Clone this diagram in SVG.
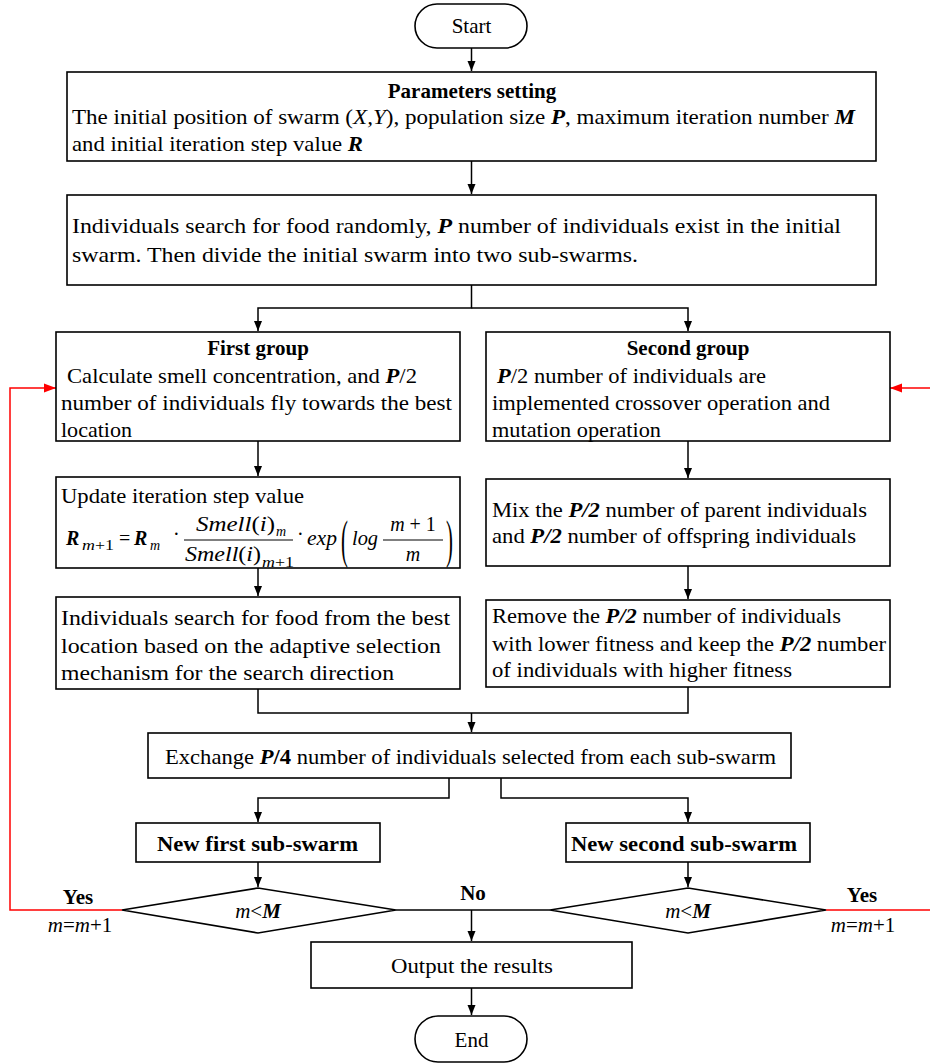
<svg xmlns="http://www.w3.org/2000/svg" width="930" height="1064" viewBox="0 0 930 1064">
<style>
.box{fill:#fff;stroke:#000;stroke-width:1.6}
.t{font-family:"Liberation Serif","Times New Roman",serif;font-size:21px;fill:#000}
.f{font-family:"Liberation Serif","Times New Roman",serif;font-size:20px;fill:#000;font-style:italic;font-weight:normal}
.s{font-size:14px}
.n{font-style:normal}
.b{font-weight:bold}
.i{font-style:italic}
.bi{font-weight:bold;font-style:italic}
.m{text-anchor:middle}
.c{fill:none;stroke:#000;stroke-width:1.5}
.r{fill:none;stroke:#f00;stroke-width:1.5}
</style>
<defs>
<marker id="ah" markerUnits="userSpaceOnUse" markerWidth="10" markerHeight="10" refX="10" refY="5" orient="auto"><path d="M0,1 L10,5 L0,9 z" fill="#000"/></marker>
<marker id="ahr" markerUnits="userSpaceOnUse" markerWidth="12" markerHeight="10" refX="12" refY="5" orient="auto"><path d="M0,0.5 L12,5 L0,9.5 z" fill="#f00"/></marker>
</defs>
<rect width="930" height="1064" fill="#fff"/>

<g id="connectors">
<path class="c" d="M471.5,48 V71" marker-end="url(#ah)"/>
<path class="c" d="M471.5,161 V194" marker-end="url(#ah)"/>
<path class="c" d="M471.5,285 V308 H258 V331" marker-end="url(#ah)"/>
<path class="c" d="M471.5,308 H688 V331" marker-end="url(#ah)"/>
<path class="c" d="M258,441 V476" marker-end="url(#ah)"/>
<path class="c" d="M258,568 V596" marker-end="url(#ah)"/>
<path class="c" d="M688,441 V478" marker-end="url(#ah)"/>
<path class="c" d="M688,565 V599" marker-end="url(#ah)"/>
<path class="c" d="M258,689 V713 H688 V687"/>
<path class="c" d="M471.5,713 V732" marker-end="url(#ah)"/>
<path class="c" d="M449,778 V798 H258 V822" marker-end="url(#ah)"/>
<path class="c" d="M501,778 V798 H688 V822" marker-end="url(#ah)"/>
<path class="c" d="M258,862 V887" marker-end="url(#ah)"/>
<path class="c" d="M688,862 V887" marker-end="url(#ah)"/>
<path class="c" d="M396,910 H550"/>
<path class="c" d="M471.5,910 V941" marker-end="url(#ah)"/>
<path class="c" d="M471.5,988 V1015" marker-end="url(#ah)"/>
<path class="r" d="M122,910 H10 V388 H56" marker-end="url(#ahr)"/>
<path class="r" d="M826,910 H930"/>
<path class="r" d="M930,388 H890" marker-end="url(#ahr)"/>
<text class="t b m" x="78" y="904">Yes</text>
<text class="t m" x="80" y="932"><tspan class="i">m</tspan>=<tspan class="i">m</tspan>+1</text>
<text class="t b m" x="862" y="902">Yes</text>
<text class="t m" x="863" y="932"><tspan class="i">m</tspan>=<tspan class="i">m</tspan>+1</text>
<text class="t b m" x="473" y="900">No</text>
</g>

<g id="start">
<rect class="box" x="415" y="4" width="112" height="44" rx="22"/>
<text class="t m" x="471.5" y="33">Start</text>
</g>

<g id="params">
<rect class="box" x="67" y="72" width="809" height="89"/>
<text class="t b m" x="472" y="98">Parameters setting</text>
<text class="t" x="72" y="124" textLength="783" lengthAdjust="spacingAndGlyphs">The initial position of swarm (<tspan class="i">X,Y</tspan>),  population size <tspan class="bi">P</tspan>,  maximum iteration number <tspan class="bi">M</tspan></text>
<text class="t" x="72" y="151" textLength="291" lengthAdjust="spacingAndGlyphs">and initial iteration step value <tspan class="bi">R</tspan></text>
</g>

<g id="init">
<rect class="box" x="67" y="195" width="809" height="90"/>
<text class="t" x="72" y="233" textLength="769" lengthAdjust="spacingAndGlyphs">Individuals search for food randomly, <tspan class="bi">P</tspan> number of individuals exist in the initial</text>
<text class="t" x="72" y="262" textLength="566" lengthAdjust="spacingAndGlyphs">swarm. Then divide the initial swarm into two sub-swarms.</text>
</g>

<g id="first-group">
<rect class="box" x="56" y="332" width="404" height="109"/>
<text class="t b m" x="258" y="355">First group</text>
<text class="t" x="67" y="383" textLength="350" lengthAdjust="spacingAndGlyphs">Calculate smell concentration, and <tspan class="bi">P</tspan>/2</text>
<text class="t" x="61" y="410" textLength="391" lengthAdjust="spacingAndGlyphs">number of  individuals fly towards the best</text>
<text class="t" x="61" y="437" textLength="71" lengthAdjust="spacingAndGlyphs">location</text>
</g>

<g id="second-group">
<rect class="box" x="486" y="332" width="404" height="109"/>
<text class="t b m" x="688" y="355">Second group</text>
<text class="t" x="497" y="383" textLength="269" lengthAdjust="spacingAndGlyphs"><tspan class="bi">P</tspan>/2 number of individuals are</text>
<text class="t" x="492" y="410" textLength="338" lengthAdjust="spacingAndGlyphs">implemented crossover operation and</text>
<text class="t" x="492" y="437" textLength="169" lengthAdjust="spacingAndGlyphs">mutation operation</text>
</g>

<g id="update-step">
<rect class="box" x="56" y="477" width="404" height="91"/>
<text class="t" x="61" y="503" textLength="243" lengthAdjust="spacingAndGlyphs">Update iteration step value</text>
<g class="f">
<text x="66" y="545" class="b">R</text>
<text x="82" y="550" class="s" textLength="32" lengthAdjust="spacingAndGlyphs">m<tspan class="n">+1</tspan></text>
<text x="119" y="545" class="n">=</text>
<text x="134" y="545" class="b">R</text>
<text x="150" y="550" class="s">m</text>
<text x="173" y="541" class="n">·</text>
<text x="196" y="531" textLength="79" lengthAdjust="spacingAndGlyphs">Smell<tspan class="n">(</tspan>i<tspan class="n">)</tspan></text>
<text x="276" y="536" class="s">m</text>
<line x1="184" y1="540" x2="293" y2="540" stroke="#000" stroke-width="1.2"/>
<text x="185" y="561" textLength="76" lengthAdjust="spacingAndGlyphs">Smell<tspan class="n">(</tspan>i<tspan class="n">)</tspan></text>
<text x="262" y="567" class="s" textLength="32" lengthAdjust="spacingAndGlyphs">m<tspan class="n">+1</tspan></text>
<text x="297" y="541" class="n">·</text>
<text x="307" y="545" textLength="30" lengthAdjust="spacingAndGlyphs">exp</text>
<text x="341" y="557" class="n" style="font-size:52px" transform="translate(341,557) scale(0.4,1) translate(-341,-557)">(</text>
<text x="352" y="545" textLength="26" lengthAdjust="spacingAndGlyphs">log</text>
<text x="413" y="531" style="text-anchor:middle">m<tspan class="n"> + 1</tspan></text>
<line x1="383" y1="540" x2="443" y2="540" stroke="#000" stroke-width="1.2"/>
<text x="413" y="561" style="text-anchor:middle">m</text>
<text x="446" y="557" class="n" style="font-size:52px" transform="translate(446,557) scale(0.4,1) translate(-446,-557)">)</text>
</g>
</g>

<g id="search-best">
<rect class="box" x="56" y="597" width="404" height="92"/>
<text class="t" x="61" y="625" textLength="389" lengthAdjust="spacingAndGlyphs">Individuals search for food from the best</text>
<text class="t" x="61" y="653" textLength="380" lengthAdjust="spacingAndGlyphs">location based on the adaptive selection</text>
<text class="t" x="61" y="680" textLength="333" lengthAdjust="spacingAndGlyphs">mechanism for the search direction</text>
</g>

<g id="mix">
<rect class="box" x="486" y="479" width="404" height="87"/>
<text class="t" x="492" y="517" textLength="375" lengthAdjust="spacingAndGlyphs">Mix the <tspan class="bi">P/2</tspan> number of parent individuals</text>
<text class="t" x="492" y="543" textLength="364" lengthAdjust="spacingAndGlyphs">and <tspan class="bi">P/2</tspan> number of offspring individuals</text>
</g>

<g id="remove">
<rect class="box" x="486" y="600" width="404" height="87"/>
<text class="t" x="492" y="623" textLength="349" lengthAdjust="spacingAndGlyphs">Remove the <tspan class="bi">P/2</tspan> number of individuals</text>
<text class="t" x="492" y="651" textLength="394" lengthAdjust="spacingAndGlyphs">with lower fitness and keep the <tspan class="bi">P/2</tspan> number</text>
<text class="t" x="492" y="677" textLength="300" lengthAdjust="spacingAndGlyphs">of individuals with higher fitness</text>
</g>

<g id="exchange">
<rect class="box" x="148" y="733" width="643" height="45"/>
<text class="t" x="165" y="764" textLength="611" lengthAdjust="spacingAndGlyphs">Exchange <tspan class="bi">P</tspan><tspan class="b">/4</tspan> number of individuals selected from each sub-swarm</text>
</g>

<g id="new-first">
<rect class="box" x="136" y="823" width="244" height="39"/>
<text class="t b" x="157" y="851" textLength="201" lengthAdjust="spacingAndGlyphs">New first sub-swarm</text>
</g>

<g id="new-second">
<rect class="box" x="566" y="823" width="244" height="39"/>
<text class="t b" x="571" y="851" textLength="226" lengthAdjust="spacingAndGlyphs">New second sub-swarm</text>
</g>

<g id="decision-first">
<polygon class="box" points="122,910 258,888 396,910 258,933"/>
<text class="t m" x="258" y="918"><tspan class="i">m</tspan>&lt;<tspan class="bi">M</tspan></text>
</g>

<g id="decision-second">
<polygon class="box" points="550,910 688,888 826,910 688,933"/>
<text class="t m" x="688" y="918"><tspan class="i">m</tspan>&lt;<tspan class="bi">M</tspan></text>
</g>

<g id="output">
<rect class="box" x="311" y="942" width="321" height="46"/>
<text class="t" x="391" y="973" textLength="162" lengthAdjust="spacingAndGlyphs">Output the results</text>
</g>

<g id="end">
<rect class="box" x="415" y="1016" width="112" height="46" rx="23"/>
<text class="t m" x="471.5" y="1047">End</text>
</g>
</svg>
